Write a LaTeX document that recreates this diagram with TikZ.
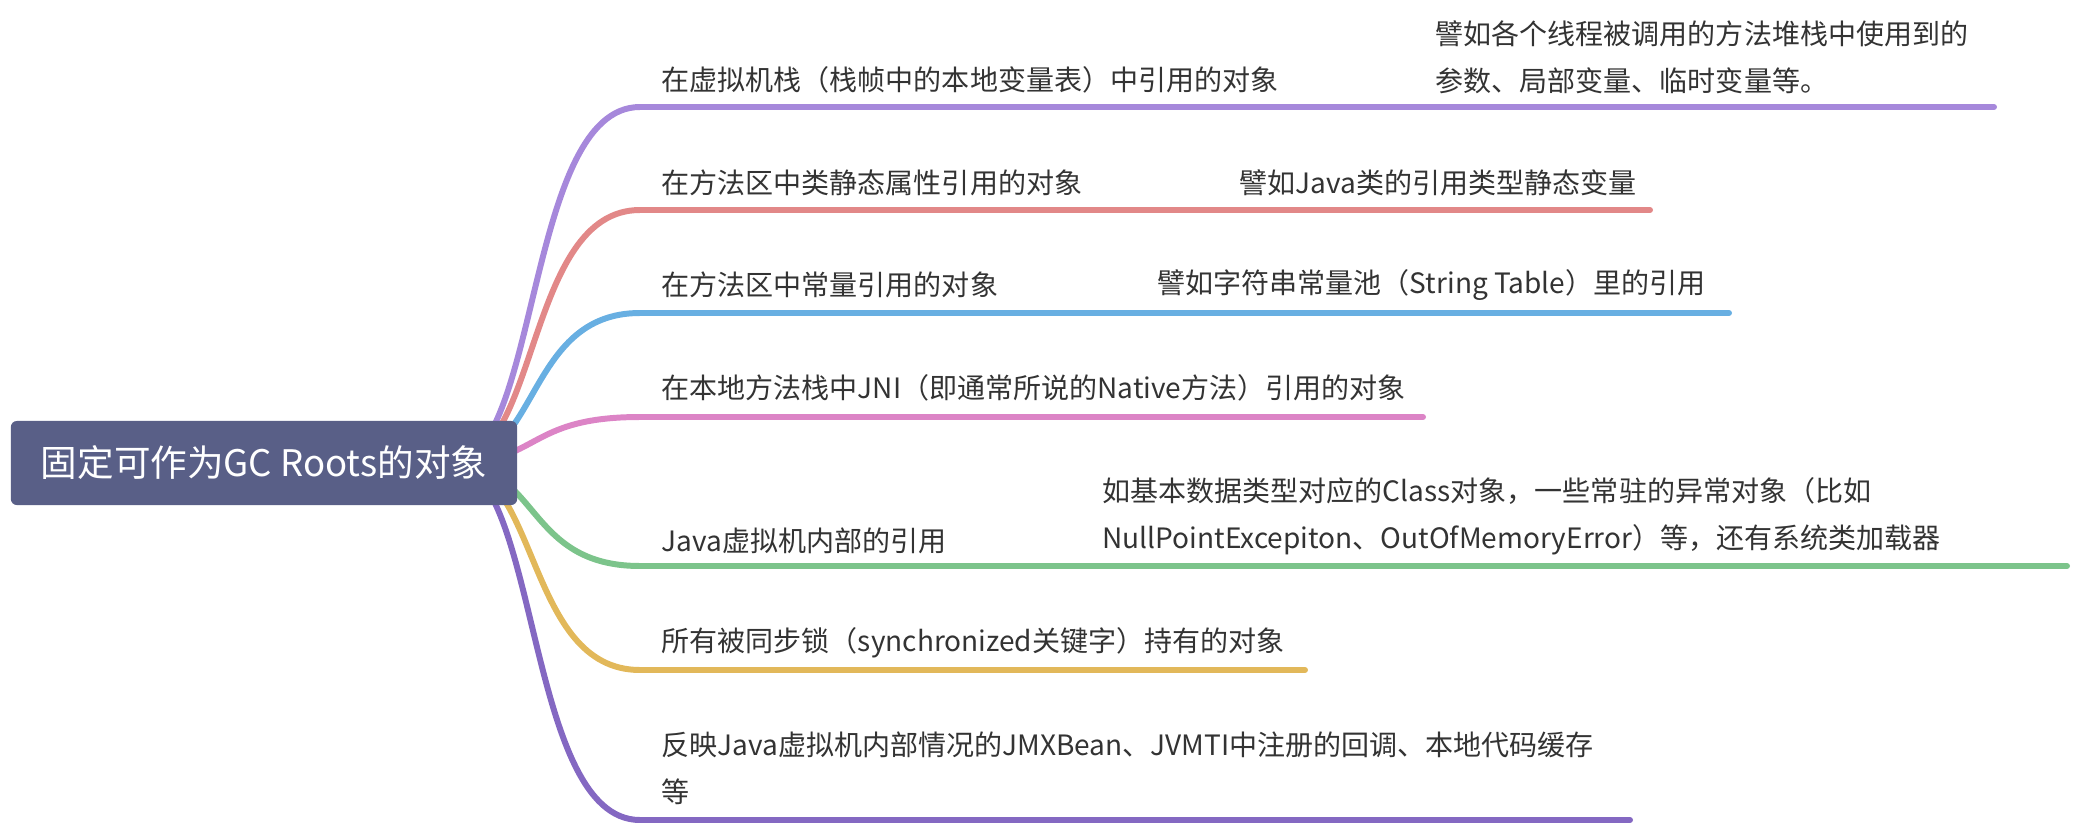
\documentclass[tikz,border=0pt]{standalone}
\usepackage{fontspec}
\setmainfont{Noto Sans CJK SC}
\usetikzlibrary{backgrounds}
\definecolor{rootc}{HTML}{595F87}
\definecolor{ca}{HTML}{A688DB}
\definecolor{cb}{HTML}{E28888}
\definecolor{cc}{HTML}{68AFE2}
\definecolor{cd}{HTML}{DC84C6}
\definecolor{ce}{HTML}{7CC48B}
\definecolor{cf}{HTML}{E2B85A}
\definecolor{cg}{HTML}{8468C2}
\definecolor{txt}{HTML}{333333}
\tikzset{
  branch/.style={line width=1.7pt, line cap=round},
  lbl/.style={anchor=west, inner sep=0pt, text=txt, font=\fontsize{7.97pt}{13.4pt}\selectfont, align=left},
  rootbox/.style={fill=rootc, rounded corners=0.06cm, minimum width=5.06cm, minimum height=0.84cm, inner sep=0pt, text=white, font=\fontsize{10.4pt}{12pt}\selectfont}
}
\begin{document}
\begin{tikzpicture}[x=0.01cm,y=-0.01cm]
\useasboundingbox (0,0) rectangle (2078,824);
\node[rootbox] (root) at (264,463) {固定可作为GC Roots的对象};
% branch texts
\node[lbl] (t1) at (661,80) {在虚拟机栈（栈帧中的本地变量表）中引用的对象};
\node[lbl] (s1) at (1435,57) {譬如各个线程被调用的方法堆栈中使用到的\\参数、局部变量、临时变量等。};
\node[lbl] (t2) at (661,183) {在方法区中类静态属性引用的对象};
\node[lbl] (s2) at (1239,183) {譬如Java类的引用类型静态变量};
\node[lbl] (t3) at (661,285) {在方法区中常量引用的对象};
\node[lbl] (s3) at (1157,285) {譬如字符串常量池（String Table）里的引用};
\node[lbl] (t4) at (661,388) {在本地方法栈中JNI（即通常所说的Native方法）引用的对象};
\node[lbl] (t5) at (661,541) {Java虚拟机内部的引用};
\node[lbl] (s5) at (1102,516) {如基本数据类型对应的Class对象，一些常驻的异常对象（比如\\NullPointExcepiton、OutOfMemoryError）等，还有系统类加载器};
\node[lbl] (t6) at (661,643) {所有被同步锁（synchronized关键字）持有的对象};
\node[lbl] (t7) at (661,768) {反映Java虚拟机内部情况的JMXBean、JVMTI中注册的回调、本地代码缓存\\等};
% line ends
\coordinate (a1) at (640,107);  \coordinate (b1) at (1994,107);
\coordinate (a2) at (640,210);  \coordinate (b2) at (1650,210);
\coordinate (a3) at (640,313);  \coordinate (b3) at (1729,313);
\coordinate (a4) at (640,417);  \coordinate (b4) at (1423,417);
\coordinate (a5) at (640,566);  \coordinate (b5) at (2067,566);
\coordinate (a6) at (640,670);  \coordinate (b6) at (1305,670);
\coordinate (a7) at (640,820);  \coordinate (b7) at (1630,820);
\coordinate (rs) at ([xshift=-0.67cm]root.east);
\begin{scope}[on background layer]
\draw[branch,ca] (rs) .. controls (540,464) and (525,107) .. (a1) -- (b1);
\draw[branch,cb] (rs) .. controls (540,464) and (525,210) .. (a2) -- (b2);
\draw[branch,cc] (rs) .. controls (540,464) and (525,313) .. (a3) -- (b3);
\draw[branch,cd] (rs) .. controls (540,464) and (525,417) .. (a4) -- (b4);
\draw[branch,ce] (rs) .. controls (540,464) and (525,566) .. (a5) -- (b5);
\draw[branch,cf] (rs) .. controls (540,464) and (525,670) .. (a6) -- (b6);
\draw[branch,cg] (rs) .. controls (540,464) and (525,820) .. (a7) -- (b7);
\end{scope}
\end{tikzpicture}
\end{document}
